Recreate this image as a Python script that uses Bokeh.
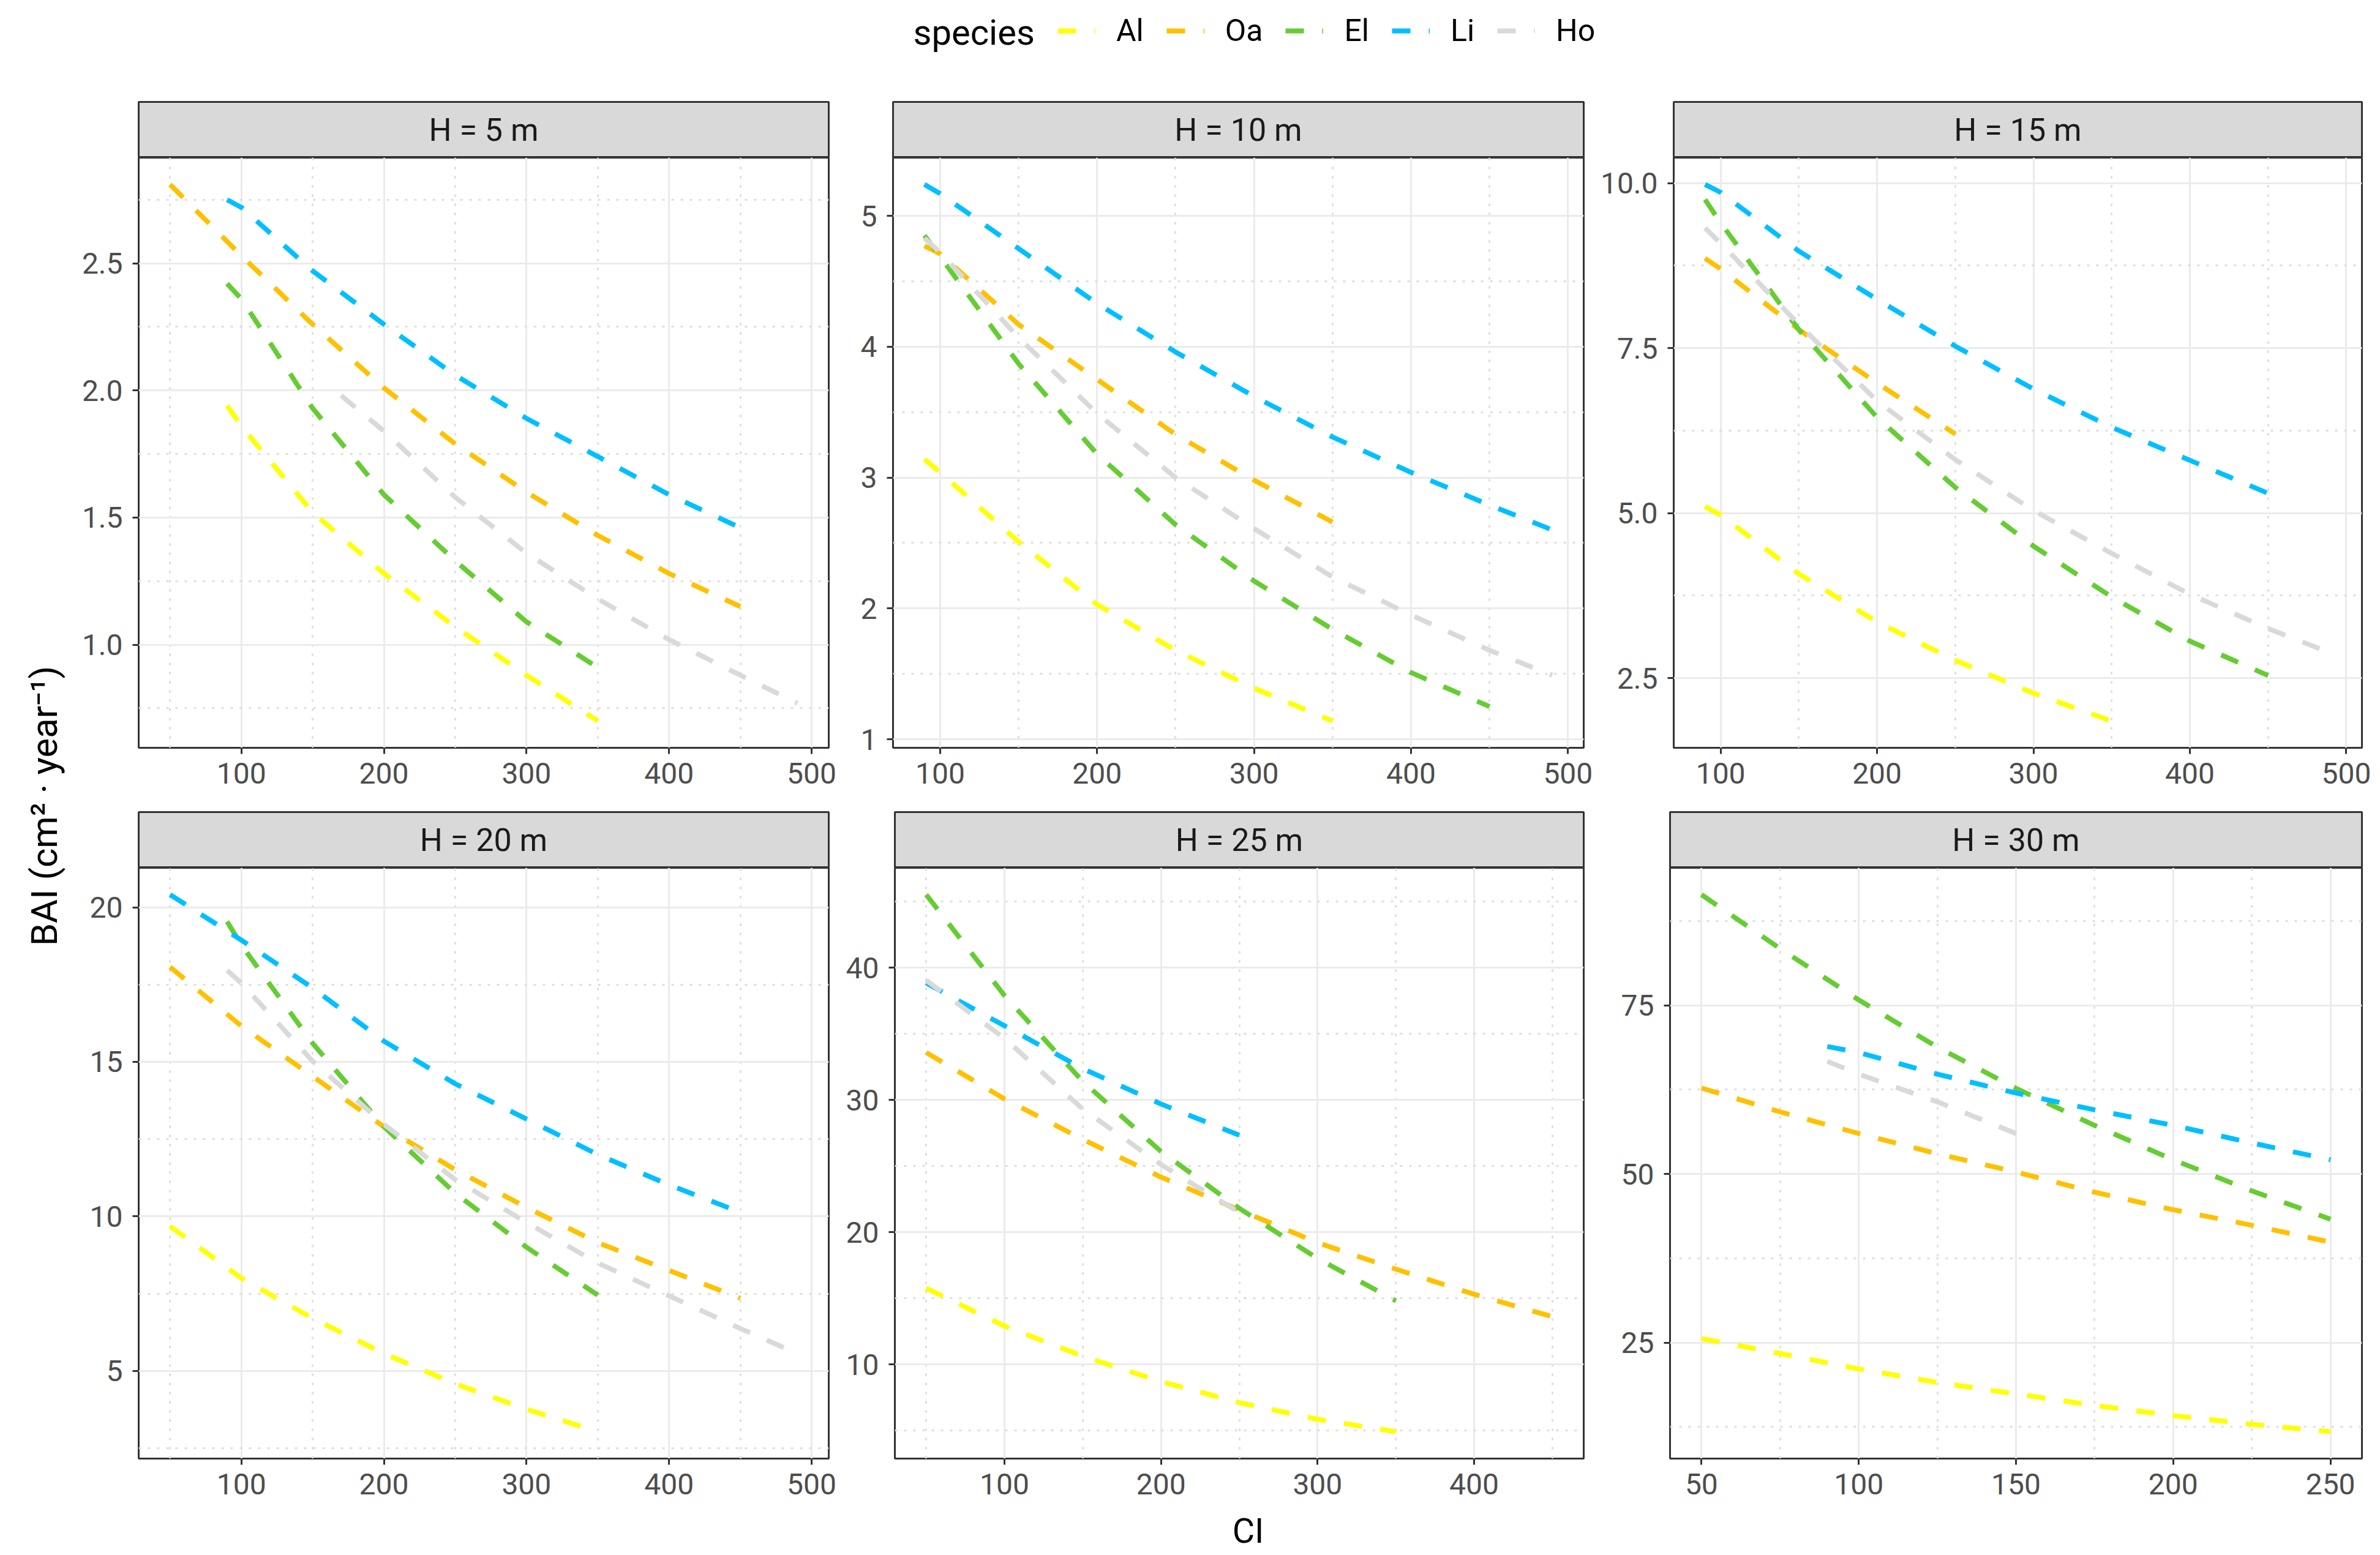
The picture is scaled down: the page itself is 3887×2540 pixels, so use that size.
import math
from bokeh.plotting import figure
from bokeh.models import (Range1d, FixedTicker, Label, Legend, LegendItem,
                          PrintfTickFormatter)
from bokeh.layouts import row, column
from bokeh.embed import file_html
from bokeh.resources import INLINE

# ---------------- data ----------------
species = ["Al", "Oa", "El", "Li", "Ho"]
species_colors = ["#FFFF00", "#FFC000", "#66CC33", "#00BFFF", "#D9D9D9"]
strip_labels = ["H = 5 m", "H = 10 m", "H = 15 m", "H = 20 m", "H = 25 m", "H = 30 m"]
x_title = "CI"
y_title = "BAI (cm² · year⁻¹)"
legend_title = "species"

# H = 5 m
h5_al_x = [90, 100, 150, 200, 250, 300, 350]
h5_al_y = [1.94, 1.86, 1.52, 1.28, 1.07, 0.88, 0.70]
h5_oa_x = [50, 100, 150, 200, 250, 300, 350, 400, 450]
h5_oa_y = [2.81, 2.53, 2.26, 2.01, 1.79, 1.60, 1.43, 1.28, 1.15]
h5_el_x = [90, 100, 150, 200, 250, 300, 350]
h5_el_y = [2.42, 2.36, 1.93, 1.59, 1.33, 1.09, 0.91]
h5_li_x = [90, 100, 150, 200, 250, 300, 350, 400, 450]
h5_li_y = [2.75, 2.72, 2.47, 2.26, 2.06, 1.89, 1.74, 1.59, 1.46]
h5_ho_x = [170, 200, 250, 300, 350, 400, 450, 490]
h5_ho_y = [1.98, 1.84, 1.58, 1.36, 1.18, 1.02, 0.88, 0.77]

# H = 10 m
h10_al_x = [90, 100, 150, 200, 250, 300, 350]
h10_al_y = [3.14, 3.04, 2.51, 2.03, 1.68, 1.39, 1.14]
h10_oa_x = [90, 100, 150, 200, 250, 300, 350]
h10_oa_y = [4.77, 4.71, 4.17, 3.75, 3.33, 2.98, 2.66]
h10_el_x = [90, 100, 150, 200, 250, 300, 350, 400, 450]
h10_el_y = [4.85, 4.69, 3.87, 3.18, 2.64, 2.21, 1.84, 1.51, 1.25]
h10_li_x = [90, 100, 150, 200, 250, 300, 350, 400, 450, 490]
h10_li_y = [5.24, 5.17, 4.75, 4.33, 3.96, 3.62, 3.31, 3.04, 2.79, 2.60]
h10_ho_x = [90, 100, 150, 200, 250, 300, 350, 400, 450, 490]
h10_ho_y = [4.83, 4.72, 4.07, 3.49, 3.00, 2.61, 2.24, 1.95, 1.68, 1.49]

# H = 15 m
h15_al_x = [90, 100, 150, 200, 250, 300, 350]
h15_al_y = [5.10, 4.97, 4.08, 3.35, 2.77, 2.27, 1.85]
h15_oa_x = [90, 100, 150, 200, 250]
h15_oa_y = [8.86, 8.70, 7.78, 6.97, 6.20]
h15_el_x = [90, 100, 150, 200, 250, 300, 350, 400, 450]
h15_el_y = [9.75, 9.40, 7.78, 6.45, 5.39, 4.50, 3.73, 3.06, 2.54]
h15_li_x = [90, 100, 150, 200, 250, 300, 350, 400, 450]
h15_li_y = [9.98, 9.86, 8.97, 8.24, 7.53, 6.88, 6.30, 5.80, 5.30]
h15_ho_x = [90, 100, 150, 200, 250, 300, 350, 400, 450, 490]
h15_ho_y = [9.32, 9.09, 7.86, 6.70, 5.81, 5.04, 4.39, 3.77, 3.25, 2.88]

# H = 20 m
h20_al_x = [50, 100, 150, 200, 250, 300, 350]
h20_al_y = [9.68, 8.00, 6.70, 5.56, 4.58, 3.76, 3.03]
h20_oa_x = [50, 100, 150, 200, 250, 300, 350, 400, 450]
h20_oa_y = [18.07, 16.16, 14.53, 12.90, 11.51, 10.29, 9.15, 8.25, 7.35]
h20_el_x = [90, 100, 150, 200, 250, 300, 350]
h20_el_y = [19.54, 18.78, 15.60, 12.90, 10.75, 9.00, 7.45]
h20_li_x = [50, 100, 150, 200, 250, 300, 350, 400, 450]
h20_li_y = [20.41, 18.94, 17.39, 15.67, 14.29, 13.15, 12.00, 11.02, 10.13]
h20_ho_x = [90, 100, 150, 200, 250, 300, 350, 400, 450, 490]
h20_ho_y = [17.96, 17.55, 15.02, 12.98, 11.19, 9.80, 8.49, 7.43, 6.37, 5.56]

# H = 25 m
h25_al_x = [50, 100, 150, 200, 250, 300, 350]
h25_al_y = [15.76, 12.90, 10.61, 8.70, 7.10, 5.84, 4.90]
h25_oa_x = [50, 100, 150, 200, 250, 300, 350, 400, 450]
h25_oa_y = [33.59, 30.08, 27.02, 24.16, 21.68, 19.20, 17.20, 15.30, 13.60]
h25_el_x = [50, 100, 150, 200, 250, 300, 350]
h25_el_y = [45.53, 37.90, 31.40, 26.10, 21.80, 18.00, 14.81]
h25_li_x = [50, 100, 150, 200, 250]
h25_li_y = [38.85, 35.61, 32.37, 29.69, 27.33]
h25_ho_x = [50, 100, 150, 200, 250]
h25_ho_y = [39.05, 34.66, 29.31, 25.11, 21.49]

# H = 30 m
h30_al_x = [50, 75, 100, 125, 150, 175, 200, 225, 250]
h30_al_y = [25.6, 23.4, 21.1, 19.1, 17.4, 15.7, 14.2, 12.9, 11.8]
h30_oa_x = [50, 75, 100, 125, 150, 175, 200, 225, 250]
h30_oa_y = [62.74, 59.2, 56.0, 53.0, 50.3, 47.3, 44.7, 42.4, 39.9]
h30_el_x = [50, 75, 100, 125, 150, 175, 200, 225, 250]
h30_el_y = [91.4, 83.4, 75.8, 68.8, 62.7, 57.2, 52.1, 47.5, 43.3]
h30_li_x = [90, 100, 125, 150, 175, 200, 225, 250]
h30_li_y = [68.9, 68.0, 64.8, 62.0, 59.5, 57.2, 54.6, 52.1]
h30_ho_x = [90, 100, 125, 150]
h30_ho_y = [66.7, 64.8, 60.7, 56.0]

# ticks per panel
h5_xticks = [100, 200, 300, 400, 500]
h5_xminor = [50, 150, 250, 350, 450]
h5_yticks = [1.0, 1.5, 2.0, 2.5]
h5_yminor = [0.75, 1.25, 1.75, 2.25, 2.75]
h5_yfmt = "%.1f"
h10_xticks = [100, 200, 300, 400, 500]
h10_xminor = [150, 250, 350, 450]
h10_yticks = [1, 2, 3, 4, 5]
h10_yminor = [1.5, 2.5, 3.5, 4.5]
h10_yfmt = "%d"
h15_xticks = [100, 200, 300, 400, 500]
h15_xminor = [150, 250, 350, 450]
h15_yticks = [2.5, 5.0, 7.5, 10.0]
h15_yminor = [3.75, 6.25, 8.75]
h15_yfmt = "%.1f"
h20_xticks = [100, 200, 300, 400, 500]
h20_xminor = [50, 150, 250, 350, 450]
h20_yticks = [5, 10, 15, 20]
h20_yminor = [2.5, 7.5, 12.5, 17.5]
h20_yfmt = "%d"
h25_xticks = [100, 200, 300, 400]
h25_xminor = [50, 150, 250, 350, 450]
h25_yticks = [10, 20, 30, 40]
h25_yminor = [5, 15, 25, 35, 45]
h25_yfmt = "%d"
h30_xticks = [50, 100, 150, 200, 250]
h30_xminor = [75, 125, 175, 225]
h30_yticks = [25, 50, 75]
h30_yminor = [12.5, 37.5, 62.5, 87.5]
h30_yfmt = "%d"

panels = [
    dict(label=strip_labels[0], series=[(h5_al_x, h5_al_y), (h5_oa_x, h5_oa_y), (h5_el_x, h5_el_y), (h5_li_x, h5_li_y), (h5_ho_x, h5_ho_y)],
         xt=h5_xticks, xm=h5_xminor, yt=h5_yticks, ym=h5_yminor, yf=h5_yfmt),
    dict(label=strip_labels[1], series=[(h10_al_x, h10_al_y), (h10_oa_x, h10_oa_y), (h10_el_x, h10_el_y), (h10_li_x, h10_li_y), (h10_ho_x, h10_ho_y)],
         xt=h10_xticks, xm=h10_xminor, yt=h10_yticks, ym=h10_yminor, yf=h10_yfmt),
    dict(label=strip_labels[2], series=[(h15_al_x, h15_al_y), (h15_oa_x, h15_oa_y), (h15_el_x, h15_el_y), (h15_li_x, h15_li_y), (h15_ho_x, h15_ho_y)],
         xt=h15_xticks, xm=h15_xminor, yt=h15_yticks, ym=h15_yminor, yf=h15_yfmt),
    dict(label=strip_labels[3], series=[(h20_al_x, h20_al_y), (h20_oa_x, h20_oa_y), (h20_el_x, h20_el_y), (h20_li_x, h20_li_y), (h20_ho_x, h20_ho_y)],
         xt=h20_xticks, xm=h20_xminor, yt=h20_yticks, ym=h20_yminor, yf=h20_yfmt),
    dict(label=strip_labels[4], series=[(h25_al_x, h25_al_y), (h25_oa_x, h25_oa_y), (h25_el_x, h25_el_y), (h25_li_x, h25_li_y), (h25_ho_x, h25_ho_y)],
         xt=h25_xticks, xm=h25_xminor, yt=h25_yticks, ym=h25_yminor, yf=h25_yfmt),
    dict(label=strip_labels[5], series=[(h30_al_x, h30_al_y), (h30_oa_x, h30_oa_y), (h30_el_x, h30_el_y), (h30_li_x, h30_li_y), (h30_ho_x, h30_ho_y)],
         xt=h30_xticks, xm=h30_xminor, yt=h30_yticks, ym=h30_yminor, yf=h30_yfmt),
]

# ---------------- style / geometry ----------------
FONT = "Roboto"
LINE_W = 8
LINE_DASH = "30 30"
COL_W = [1250, 1232, 1269]
COL_BL = [98, 80, 117]
COL_BR = [25, 24, 22]
YT_W = 128
TOTAL_W = YT_W + sum(COL_W)
LEG_H = 164
STRIP_H = 93
ROW_PLOT_H = [1067, 1045]
ROW_BB = [103, 80]
CI_H = 75


def expanded(vals):
    lo, hi = min(vals), max(vals)
    pad = 0.05 * (hi - lo)
    return Range1d(lo - pad, hi + pad)


def blank_fig(w, h):
    f = figure(width=w, height=h, x_range=Range1d(0, w), y_range=Range1d(0, h),
               x_axis_type=None, y_axis_type=None, output_backend="svg", toolbar_location=None,
               min_border=0, outline_line_color=None, title_location=None)
    f.border_fill_color = "white"
    f.background_fill_color = "white"
    return f


def make_strip(text, w, bl, br):
    s = figure(width=w, height=STRIP_H, x_range=Range1d(0, 1), y_range=Range1d(0, 1),
               x_axis_type=None, y_axis_type=None, output_backend="svg", toolbar_location=None,
               title_location=None,
               min_border_left=bl, min_border_right=br, min_border_top=2, min_border_bottom=0)
    s.background_fill_color = "#D9D9D9"
    s.border_fill_color = "white"
    s.outline_line_color = "#333333"
    s.outline_line_width = 3
    s.add_layout(Label(x=0.5, y=0.5, text=text, text_align="center", text_baseline="middle",
                       text_font=FONT, text_font_size="52px", text_color="#1A1A1A"))
    return s


def make_panel(pn, w, h, bl, br, bb):
    allx = [v for sx, sy in pn["series"] for v in sx]
    ally = [v for sx, sy in pn["series"] for v in sy]
    p = figure(width=w, height=h, x_range=expanded(allx), y_range=expanded(ally),
               output_backend="svg", toolbar_location=None, title_location=None,
               min_border_left=bl, min_border_right=br, min_border_top=0, min_border_bottom=bb)
    p.background_fill_color = "white"
    p.border_fill_color = "white"
    p.outline_line_color = "#333333"
    p.outline_line_width = 3
    p.xaxis.ticker = FixedTicker(ticks=pn["xt"], minor_ticks=pn["xm"])
    p.yaxis.ticker = FixedTicker(ticks=pn["yt"], minor_ticks=pn["ym"])
    p.yaxis.formatter = PrintfTickFormatter(format=pn["yf"])
    for ax in (p.xaxis, p.yaxis):
        ax.axis_line_color = None
        ax.major_tick_line_color = "#333333"
        ax.major_tick_line_width = 3
        ax.major_tick_out = 10
        ax.major_tick_in = 0
        ax.minor_tick_line_color = None
        ax.major_label_text_font = FONT
        ax.major_label_text_font_size = "48px"
        ax.major_label_text_color = "#4D4D4D"
    p.xaxis.major_label_standoff = 14
    p.yaxis.major_label_standoff = 16
    for g in (p.xgrid, p.ygrid):
        g.grid_line_color = "#EBEBEB"
        g.grid_line_width = 3
        g.minor_grid_line_color = "#DEDEDE"
        g.minor_grid_line_width = 3
        g.minor_grid_line_dash = "4 11"
    for (sx, sy), col in zip(pn["series"], species_colors):
        p.line(sx, sy, line_color=col, line_width=LINE_W, line_dash=LINE_DASH)
    return p


rows = []
for r in range(2):
    cols = []
    for c in range(3):
        pn = panels[r * 3 + c]
        st = make_strip(pn["label"], COL_W[c], COL_BL[c], COL_BR[c])
        pl = make_panel(pn, COL_W[c], ROW_PLOT_H[r], COL_BL[c], COL_BR[c], ROW_BB[r])
        cols.append(column(st, pl, spacing=0))
    rows.append(row(*cols, spacing=0))
grid = column(*rows, spacing=0)

grid_h = 2 * STRIP_H + sum(ROW_PLOT_H)

# y-axis title (rotated)
yt = blank_fig(YT_W, grid_h)
yt.add_layout(Label(x=72, y=grid_h - (1316 - LEG_H), text=y_title, angle=math.pi / 2,
                    text_align="center", text_baseline="middle",
                    text_font=FONT, text_font_size="60px", text_color="black"))

# legend strip
lg = blank_fig(TOTAL_W, LEG_H)
items = []
for sp, col in zip(species, species_colors):
    rr = lg.line(x=[float("nan")], y=[float("nan")], line_color=col, line_width=LINE_W,
                 line_dash=LINE_DASH)
    items.append(LegendItem(label=sp, renderers=[rr]))
leg = Legend(items=items, orientation="horizontal", location=(1727, 84),
             glyph_width=62, glyph_height=60, label_height=60, label_standoff=34, spacing=37,
             padding=0, margin=0, border_line_color=None, background_fill_alpha=0,
             label_text_font=FONT, label_text_font_size="50px", label_text_color="black",
             label_text_baseline="middle")
lg.add_layout(leg)
lg.add_layout(Label(x=1491, y=112, text=legend_title, text_align="left", text_baseline="middle",
                    text_font=FONT, text_font_size="58px", text_color="black"))

# x-axis title
ci = blank_fig(TOTAL_W, CI_H)
ci.add_layout(Label(x=2038, y=37, text=x_title, text_align="center", text_baseline="middle",
                    text_font=FONT, text_font_size="56px", text_color="black"))

layout = column(lg, row(yt, grid, spacing=0), ci, spacing=0)

open("out.html", "w").write(file_html(layout, INLINE))
